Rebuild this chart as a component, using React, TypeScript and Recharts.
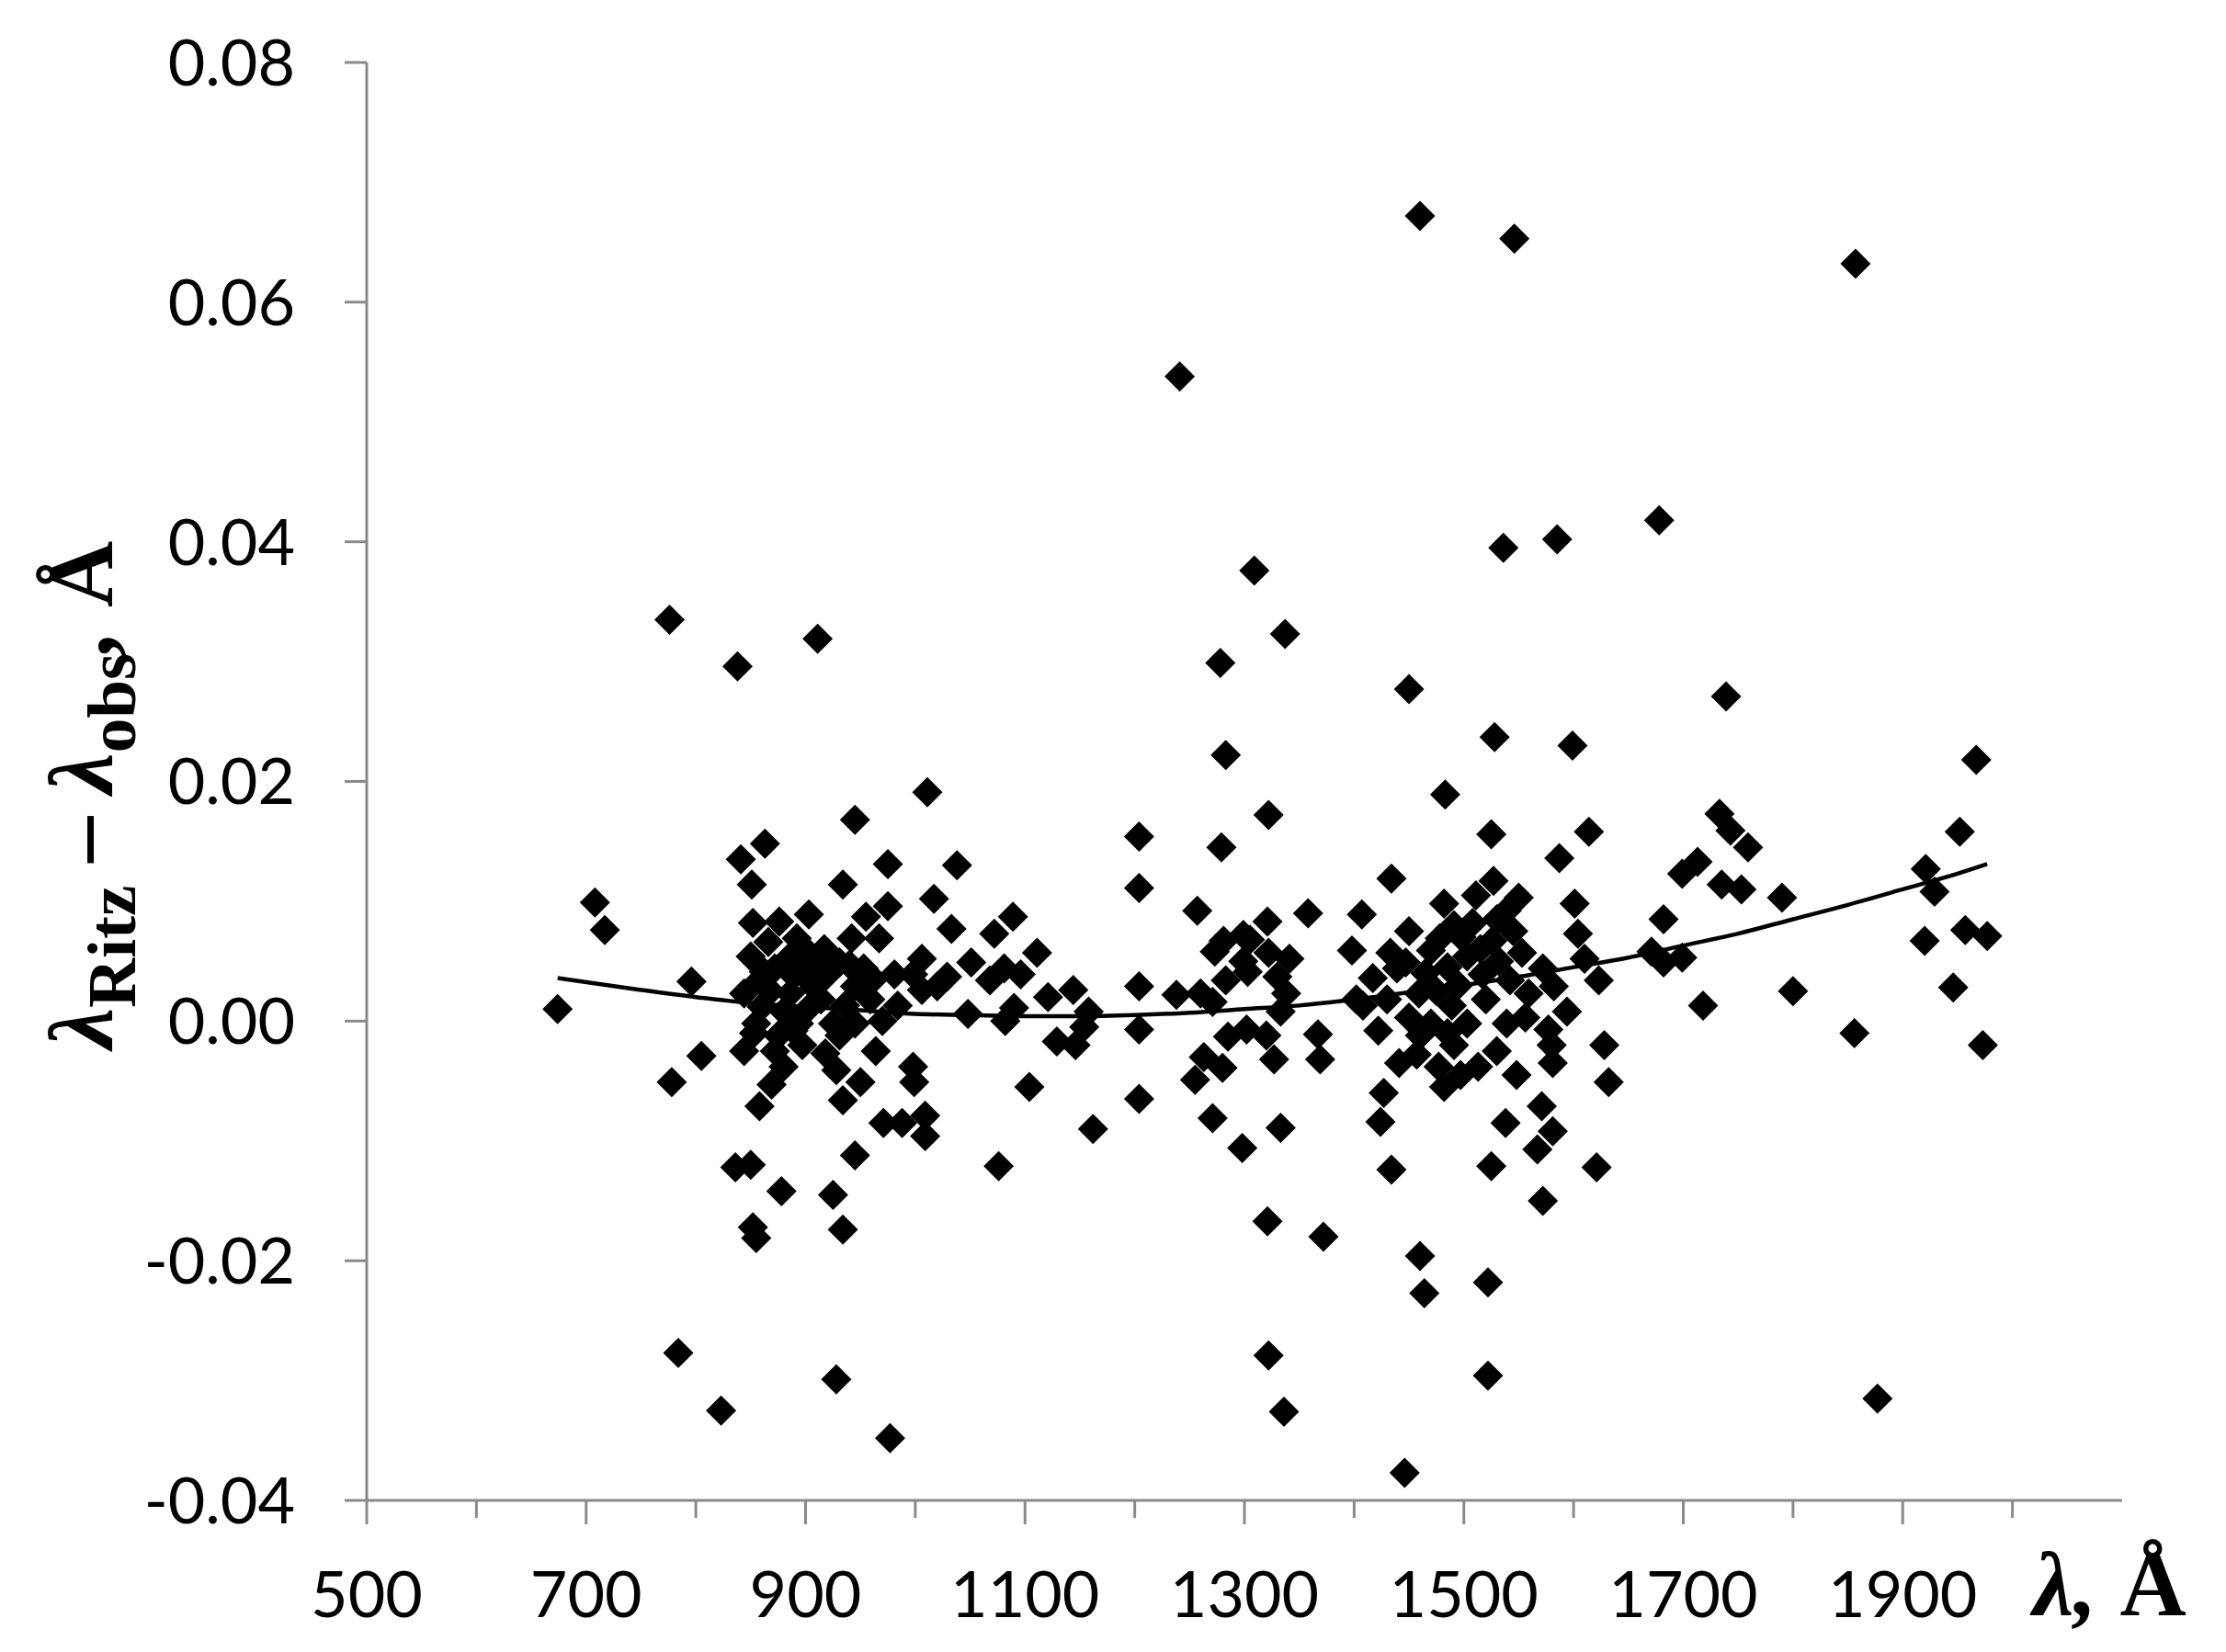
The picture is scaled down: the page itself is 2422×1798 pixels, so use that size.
import { ComposedChart, Scatter, Line, XAxis, YAxis, Label } from 'recharts'

// residuals λRitz − λobs (Å) against wavelength (Å)
const below800 = [
  [674, 0.001], [708, 0.0099], [717, 0.0076], [776, 0.0335], [778, -0.0051], [784, -0.0277], [796, 0.0033],
]

const range800to1000 = [
  [805, -0.0029], [823, -0.0325], [836, -0.0122], [838, 0.0296], [841, 0.0135], [844, 0.0023], [844, -0.0025],
  [850, 0.0054], [850, -0.012], [851, 0.0114], [852, 0.0082], [852, -0.0172], [853, -0.001], [855, -0.0181],
  [855, -0.0002], [858, 0.0034], [858, -0.0071], [860, 0.0012], [862, 0.0041], [863, 0.0148], [866, 0.0066],
  [868, 0.0025], [869, -0.0053], [872, 0.0044], [872, -0.0025], [875, -0.0012], [876, 0.0083], [878, -0.0142],
  [880, 0.0008], [880, -0.0038], [884, 0.0052], [886, 0.0023], [889, 0.0038], [889, -0.0008], [892, 0.0069],
  [894, -0.0002], [897, 0.0062], [897, -0.002], [900, 0.0052], [903, 0.0089], [903, 0.0034], [903, 0.0011],
  [908, 0.0028], [911, 0.0319], [914, 0.0046], [914, 0.0018], [917, 0.006], [918, -0.0027], [920, 0.0039],
  [925, -0.0002], [925, -0.0145], [928, -0.0041], [928, -0.0299], [931, 0.0049], [931, -0.0012], [934, 0.0114],
  [934, -0.0066], [934, -0.0174], [936, 0.0013], [940, 0.0047], [942, 0.0069], [945, 0.0168], [945, 0.0029],
  [945, -0.0002], [945, -0.0112], [950, -0.0051], [953, 0.0044], [955, 0.0087], [959, 0.0018], [962, 0.0035],
  [964, -0.0025], [967, 0.0069], [970, 0.0], [971, -0.0085], [975, 0.0131], [975, 0.0096], [977, -0.0348],
  [981, 0.0039], [984, 0.0013], [988, -0.0085], [998, 0.0039], [998, -0.0038], [999, -0.0051],
]

const range1000to1200 = [
  [1006, 0.0052], [1006, 0.0026], [1009, -0.0079], [1009, -0.0096], [1011, 0.0191], [1017, 0.0102],
  [1020, 0.0029], [1029, 0.0037], [1033, 0.0077], [1038, 0.013], [1048, 0.0006], [1051, 0.0049],
  [1068, 0.0034], [1072, 0.0073], [1076, -0.0121], [1081, 0.0044], [1082, 0.0], [1089, 0.0087],
  [1090, 0.0011], [1096, 0.0039], [1104, -0.0055], [1111, 0.0057], [1121, 0.002], [1129, -0.0017],
  [1144, 0.0026], [1146, -0.002], [1154, -0.0005], [1158, 0.0008], [1162, -0.009],
]

const range1200to1400 = [
  [1204, 0.0154], [1204, 0.0111], [1204, 0.0029], [1204, -0.0007], [1204, -0.0065], [1238, 0.0022],
  [1241, 0.0538], [1255, -0.0049], [1257, 0.0092], [1260, 0.0023], [1263, -0.003], [1271, 0.0016],
  [1271, -0.0081], [1273, 0.0058], [1278, 0.0299], [1279, 0.0145], [1280, -0.0039], [1281, 0.0067],
  [1283, 0.0222], [1283, 0.0034], [1285, -0.0013], [1298, -0.0106], [1299, 0.0072], [1299, 0.005],
  [1302, -0.0007], [1303, 0.0041], [1305, 0.0068], [1309, 0.0376], [1320, -0.0012], [1321, 0.0083],
  [1321, -0.0167], [1322, 0.0172], [1322, 0.0057], [1322, -0.0279], [1327, -0.0032], [1330, 0.0037],
  [1333, 0.0008], [1333, -0.0089], [1336, -0.0326], [1337, 0.0323], [1338, 0.0023], [1341, 0.0052],
  [1358, 0.009], [1367, -0.0011], [1369, -0.0032], [1372, -0.018], [1398, 0.0059],
]

const range1400to1650 = [
  [1402, 0.0018], [1407, 0.0089], [1408, 0.0013], [1417, 0.0036], [1422, -0.0008], [1424, -0.0084],
  [1427, -0.006], [1430, 0.0018], [1433, 0.0057], [1434, 0.0119], [1434, -0.0124], [1439, 0.0044],
  [1441, -0.0035], [1446, -0.0377], [1447, 0.0049], [1450, 0.0277], [1450, 0.0075], [1450, 0.0003],
  [1457, -0.0028], [1459, 0.0023], [1460, 0.0672], [1460, -0.0196], [1460, -0.0012], [1464, -0.0227],
  [1465, 0.004], [1470, 0.0059], [1470, -0.0002], [1475, 0.0025], [1477, -0.0038], [1478, 0.0069],
  [1482, 0.0098], [1482, -0.0055], [1483, 0.0189], [1485, 0.0045], [1485, -0.001], [1489, 0.0013],
  [1491, 0.008], [1491, -0.002], [1495, 0.003], [1497, -0.0045], [1498, 0.007], [1503, 0.0054],
  [1503, -0.0002], [1508, 0.0082], [1511, 0.0105], [1513, -0.0038], [1515, 0.006], [1517, 0.0039],
  [1520, 0.0018], [1522, -0.0218], [1522, -0.0296], [1525, 0.0156], [1525, -0.0121], [1526, 0.0067],
  [1527, 0.0117], [1528, 0.0237], [1530, 0.0085], [1530, -0.0025], [1532, 0.005], [1536, 0.0395],
  [1538, -0.0085], [1539, 0.0092], [1539, -0.0002], [1542, 0.0034], [1545, 0.0075], [1546, 0.0653],
  [1548, -0.0045], [1550, 0.0103], [1553, 0.0057], [1556, 0.0003], [1559, 0.0023], [1567, -0.0107],
  [1571, -0.0071], [1572, 0.0044], [1572, -0.015], [1577, -0.0007], [1580, -0.002], [1581, -0.0035],
  [1581, -0.0092], [1582, 0.0029], [1585, 0.0402], [1587, 0.0136], [1594, 0.0008], [1599, 0.023],
  [1601, 0.0098], [1604, 0.0073], [1610, 0.0052], [1614, 0.0158], [1621, -0.0122], [1623, 0.0034],
  [1628, -0.002], [1632, -0.0051],
]

const above1650 = [
  [1671, 0.0058], [1678, 0.0418], [1682, 0.0085], [1682, 0.0049], [1699, 0.0123], [1699, 0.0053],
  [1713, 0.0133], [1718, 0.0013], [1733, 0.0173], [1735, 0.0114], [1739, 0.0271], [1743, 0.0159],
  [1753, 0.011], [1759, 0.0145], [1790, 0.0103], [1800, 0.0025], [1856, -0.001], [1857, 0.0632],
  [1877, -0.0315], [1920, 0.0067], [1921, 0.0127], [1929, 0.0108], [1946, 0.0028], [1952, 0.0158],
  [1957, 0.0076], [1967, 0.0218], [1973, -0.002], [1977, 0.0071],
]

// fitted curve, read at a set of wavelengths
const trendLambda = [674, 750, 800, 850, 900, 950, 1000, 1050, 1100, 1150, 1200, 1250, 1300, 1350,
  1400, 1450, 1500, 1550, 1600, 1650, 1700, 1750, 1800, 1850, 1900, 1950, 1977]
const trendValue = [0.0036, 0.0026, 0.002, 0.0015, 0.0012, 0.0009, 0.0006, 0.0005, 0.0004, 0.0004,
  0.0005, 0.0007, 0.001, 0.0013, 0.0018, 0.0024, 0.003, 0.0037, 0.0045, 0.0053, 0.0063, 0.0073,
  0.0085, 0.0097, 0.011, 0.0123, 0.0131]

const xTicks = [500, 600, 700, 800, 900, 1000, 1100, 1200, 1300, 1400, 1500, 1600, 1700, 1800, 1900, 2000]
const xLabelled = [500, 700, 900, 1100, 1300, 1500, 1700, 1900]
const yTicks = [-0.04, -0.02, 0, 0.02, 0.04, 0.06, 0.08]

const points = [...below800, ...range800to1000, ...range1000to1200, ...range1200to1400,
  ...range1400to1650, ...above1650].map(([x, y]) => ({ x, y }))
const trend = trendLambda.map((x, i) => ({ x, y: trendValue[i] }))

const axisGrey = '#8a8a8a'
const tickFont = 'Lato, "Open Sans", sans-serif'
const titleFont = '"Liberation Serif", "Times New Roman", serif'

function Diamond(props: any) {
  const { cx, cy } = props
  const r = 16.5
  return <path d={`M${cx},${cy - r}L${cx + r},${cy}L${cx},${cy + r}L${cx - r},${cy}Z`} fill="#000" />
}

function XTick(props: any) {
  const { x, y, payload } = props
  const major = xLabelled.includes(payload.value)
  const top = y - 77
  return (
    <g>
      <line x1={x} x2={x} y1={top} y2={top + (major ? 26 : 19)} stroke={axisGrey} strokeWidth={3} />
      {major && (
        <text x={x} y={y} dy="0.71em" textAnchor="middle" fontSize={70} fontFamily={tickFont} fill="#000">
          {payload.value}
        </text>
      )}
    </g>
  )
}

function YTitle() {
  return (
    <text
      x={122}
      y={865}
      transform="rotate(-90, 122, 865)"
      textAnchor="middle"
      fontFamily={titleFont}
      fontWeight="bold"
      fontSize={100}
      fill="#000"
    >
      <tspan fontStyle="italic">λ</tspan>
      <tspan fontSize={75} dy={25}>Ritz</tspan>
      <tspan dy={-25}> – </tspan>
      <tspan fontStyle="italic">λ</tspan>
      <tspan fontSize={75} dy={25}>obs</tspan>
      <tspan dy={-25} fontStyle="italic">,</tspan>
      <tspan> Å</tspan>
    </text>
  )
}

function XTitle() {
  return (
    <text x={2212} y={1758} fontFamily={titleFont} fontWeight="bold" fontSize={100} fill="#000">
      <tspan fontStyle="italic">λ,</tspan>
      <tspan> Å</tspan>
    </text>
  )
}

export default function App() {
  return (
    <>
      <style>{'body{margin:0;background:#fff}'}</style>
      <ComposedChart width={2422} height={1798} margin={{ top: 68, right: 113, bottom: 0, left: 0 }}>
        <XAxis
          type="number"
          dataKey="x"
          domain={[500, 2100]}
          ticks={xTicks}
          interval={0}
          height={165}
          tickSize={0}
          tickMargin={77}
          tickLine={false}
          axisLine={{ stroke: axisGrey, strokeWidth: 3 }}
          tick={<XTick />}
        >
          <Label content={<XTitle />} />
        </XAxis>
        <YAxis
          type="number"
          dataKey="y"
          domain={[-0.04, 0.08]}
          ticks={yTicks}
          interval={0}
          width={399}
          tickSize={24}
          tickMargin={54}
          tickFormatter={(v: number) => v.toFixed(2)}
          axisLine={{ stroke: axisGrey, strokeWidth: 3 }}
          tickLine={{ stroke: axisGrey, strokeWidth: 3 }}
          tick={{ fontSize: 70, fontFamily: tickFont, fill: '#000' }}
        >
          <Label content={<YTitle />} />
        </YAxis>
        <Scatter data={points} dataKey="y" shape={<Diamond />} isAnimationActive={false} />
        <Line
          data={trend}
          dataKey="y"
          type="monotone"
          stroke="#000"
          strokeWidth={4.5}
          dot={false}
          activeDot={false}
          isAnimationActive={false}
        />
      </ComposedChart>
    </>
  )
}
